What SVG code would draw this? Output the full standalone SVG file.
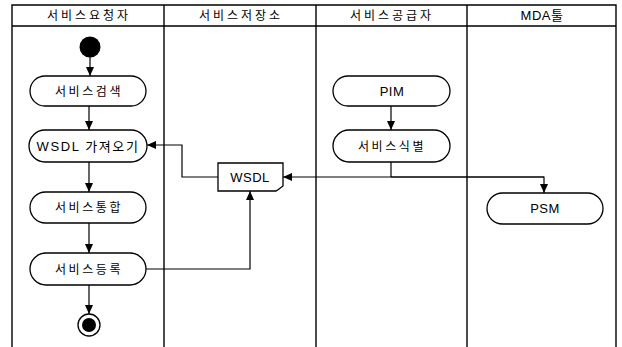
<svg xmlns="http://www.w3.org/2000/svg" width="622" height="347" viewBox="0 0 622 347">
<style>
.frame{fill:none;stroke:#000;stroke-width:1.4}
.node{fill:#fff;stroke:#000;stroke-width:1.3}
.conn{fill:none;stroke:#000;stroke-width:1.2}
.t{font-family:"Liberation Sans","Noto Sans CJK KR",sans-serif;font-size:12px;fill:#000;text-anchor:middle;letter-spacing:2.6px}
.h{letter-spacing:3px}
.tl{font-family:"Liberation Sans","Noto Sans CJK KR",sans-serif;font-size:13px;fill:#000;text-anchor:middle;letter-spacing:0.5px}
</style>
<defs>
<marker id="ah" markerUnits="userSpaceOnUse" markerWidth="10" markerHeight="10" refX="9" refY="4" orient="auto">
<path d="M0,0 L9,4 L0,8 z" fill="#000"/>
</marker>
</defs>
<rect width="622" height="347" fill="#fff"/>
<g id="swimlanes">
<path class="frame" d="M12,347 V5 H616 V347 M12,26 H616 M164,5 V347 M316,5 V347 M467,5 V347"/>
<text class="t h" x="89" y="20">서비스요청자</text>
<text class="t h" x="241" y="20">서비스저장소</text>
<text class="t h" x="392" y="20">서비스공급자</text>
<text class="tl" x="542" y="20">MDA툴</text>
</g>
<g id="connectors">
<path class="conn" d="M90,57 V76" marker-end="url(#ah)"/>
<path class="conn" d="M89,106 V130" marker-end="url(#ah)"/>
<path class="conn" d="M89,162 V192" marker-end="url(#ah)"/>
<path class="conn" d="M89,223 V253" marker-end="url(#ah)"/>
<path class="conn" d="M89,285 V314" marker-end="url(#ah)"/>
<path class="conn" d="M391,106 V130" marker-end="url(#ah)"/>
<path class="conn" d="M218,177 H182 V145 H147" marker-end="url(#ah)"/>
<path class="conn" d="M146,269 H250 V191" marker-end="url(#ah)"/>
<path class="conn" d="M391,162 V177"/>
<path class="conn" d="M544,177 H283" marker-end="url(#ah)"/>
<path class="conn" d="M391,177 H544 V193" marker-end="url(#ah)"/>
</g>
<g id="start"><circle cx="90" cy="47" r="10.5" fill="#000"/></g>
<g id="search"><rect class="node" x="30" y="76" width="116" height="30" rx="15"/><text class="t" x="89" y="96">서비스검색</text></g>
<g id="fetch"><rect class="node" x="29" y="130" width="118" height="32" rx="16"/><text class="t" x="88" y="151" style="font-size:13px;letter-spacing:1.6px">WSDL 가져오기</text></g>
<g id="integrate"><rect class="node" x="30" y="192" width="116" height="31" rx="15.5"/><text class="t" x="89" y="212">서비스통합</text></g>
<g id="register"><rect class="node" x="30" y="253" width="116" height="32" rx="16"/><text class="t" x="89" y="274">서비스등록</text></g>
<g id="end"><circle cx="89" cy="325" r="11" fill="#fff" stroke="#000" stroke-width="1.3"/><circle cx="89" cy="325" r="7" fill="#000"/></g>
<g id="wsdl"><path class="node" d="M218,163 H283 V186 L279,189 L276,191 H218 Z"/><text class="tl" x="250" y="182">WSDL</text></g>
<g id="pim"><rect class="node" x="333" y="76" width="117" height="30" rx="15"/><text class="tl" x="392" y="96">PIM</text></g>
<g id="identify"><rect class="node" x="333" y="130" width="117" height="32" rx="16"/><text class="t" x="392" y="151">서비스식별</text></g>
<g id="psm"><rect class="node" x="487" y="193" width="116" height="31" rx="15.5"/><text class="tl" x="545" y="213">PSM</text></g>
</svg>
